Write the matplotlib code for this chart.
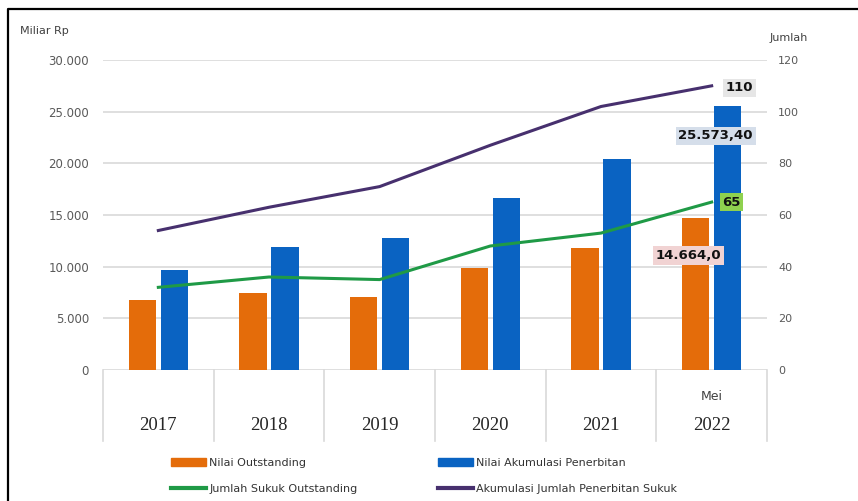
import matplotlib
matplotlib.use("Agg")
import matplotlib.pyplot as plt
from matplotlib.patches import Patch
from matplotlib.lines import Line2D
import matplotlib.transforms as mtransforms

years = ["2017", "2018", "2019", "2020", "2021", "2022"]
nilai_outstanding = [6800, 7450, 7100, 9900, 11850, 14664.0]
nilai_akumulasi = [9650, 11900, 12800, 16600, 20400, 25573.40]
jumlah_outstanding = [32, 36, 35, 48, 53, 65]
akumulasi_jumlah = [54, 63, 71, 87, 102, 110]
left_ticks = [0, 5000, 10000, 15000, 20000, 25000, 30000]
left_labels = ["0", "5.000", "10.000", "15.000", "20.000", "25.000", "30.000"]
right_ticks = [0, 20, 40, 60, 80, 100, 120]

C_OR = "#E46C0A"
C_BL = "#0A63C2"
C_GR = "#1F9A46"
C_PU = "#47306E"
C_TXT = "#595959"

W, H = 858, 501
fig = plt.figure(figsize=(W / 100, H / 100), dpi=100)
fig.patch.set_facecolor("white")
ax = fig.add_axes([103 / W, 1 - 370 / H, (767 - 103) / W, (370 - 60) / H])
ax2 = ax.twinx()

x = list(range(len(years)))
bw = 0.245
ax.bar([i - 0.145 for i in x], nilai_outstanding, width=bw, color=C_OR, zorder=3)
ax.bar([i + 0.145 for i in x], nilai_akumulasi, width=bw, color=C_BL, zorder=3)
ax2.plot(x, jumlah_outstanding, color=C_GR, lw=2.2, zorder=4)
ax2.plot(x, akumulasi_jumlah, color=C_PU, lw=2.2, zorder=4)

ax.set_xlim(-0.5, len(years) - 0.5)
ax.set_ylim(0, 30000)
ax2.set_ylim(0, 120)
ax.set_yticks(left_ticks)
ax.set_yticklabels(left_labels)
ax2.set_yticks(right_ticks)
ax2.set_yticklabels([str(t) for t in right_ticks])
ax.set_xticks([])
for a in (ax, ax2):
    for s in a.spines.values():
        s.set_visible(False)
ax.tick_params(axis="y", length=0, pad=10, labelsize=8.5, labelcolor=C_TXT)
ax2.tick_params(axis="y", length=0, pad=8, labelsize=8, labelcolor=C_TXT)
ax.grid(axis="y", color="#D9D9D9", lw=1.2, zorder=0)
ax.set_axisbelow(True)
ax.set_zorder(1)
ax2.set_zorder(2)
ax.patch.set_visible(False)

# category table below axis
trans = mtransforms.blended_transform_factory(ax.transData, ax.transAxes)
for b in [i - 0.5 for i in range(len(years) + 1)]:
    ax.plot([b, b], [0, -0.23], transform=trans, color="#D9D9D9", lw=1.2, clip_on=False)
for i, yr in enumerate(years):
    ax.text(i, -0.18, yr, transform=trans, ha="center", va="center",
            fontsize=13.5, family="Liberation Serif", color="#262626")
ax.text(5, -0.085, "Mei", transform=trans, ha="center", va="center",
        fontsize=9, color="#404040")

# data labels
ax2.annotate("110", xy=(5, akumulasi_jumlah[-1]), xytext=(28, -2), textcoords="offset pixels",
             ha="center", va="center", fontsize=9.5, fontweight="bold", color="#111111",
             bbox=dict(boxstyle="square,pad=0.2", fc="#E6E6E6", ec="none"), zorder=6)
ax.annotate("25.573,40", xy=(5, nilai_akumulasi[-1]), xytext=(4, -30), textcoords="offset pixels",
            ha="center", va="center", fontsize=9.5, fontweight="bold", color="#111111",
            bbox=dict(boxstyle="square,pad=0.2", fc="#D5DEEA", ec="none"), zorder=6)
ax2.annotate("65", xy=(5, jumlah_outstanding[-1]), xytext=(20, 0), textcoords="offset pixels",
             ha="center", va="center", fontsize=9.5, fontweight="bold", color="#111111",
             bbox=dict(boxstyle="square,pad=0.2", fc="#8FD14F", ec="none"), zorder=6)
ax.annotate("14.664,0", xy=(5, nilai_outstanding[-1]), xytext=(-23, -37), textcoords="offset pixels",
            ha="center", va="center", fontsize=9.5, fontweight="bold", color="#111111",
            bbox=dict(boxstyle="square,pad=0.2", fc="#F1D3D3", ec="none"), zorder=6)

# axis titles
fig.text(20 / W, 1 - 31 / H, "Miliar Rp", fontsize=8, color="#404040", ha="left", va="center")
fig.text(808 / W, 1 - 38 / H, "Jumlah", fontsize=8, color="#404040", ha="right", va="center")

# legends
common = dict(frameon=False, fontsize=8, handlelength=3.2, handletextpad=0.3,
              labelspacing=1.45, borderpad=0, labelcolor="#333333")
leg1 = fig.legend(handles=[Patch(color=C_OR, label="Nilai Outstanding"),
                           Line2D([], [], color=C_GR, lw=3, label="Jumlah Sukuk Outstanding")],
                  loc="upper left", bbox_to_anchor=(165 / W, 1 - 452 / H), **common)
leg2 = fig.legend(handles=[Patch(color=C_BL, label="Nilai Akumulasi Penerbitan"),
                           Line2D([], [], color=C_PU, lw=3, label="Akumulasi Jumlah Penerbitan Sukuk")],
                  loc="upper left", bbox_to_anchor=(432 / W, 1 - 452 / H), **common)

# frame
fig.add_artist(Line2D([8 / W, 8 / W, 1.0], [0.0, 1 - 9 / H, 1 - 9 / H],
                      transform=fig.transFigure, color="black", lw=1.6))

fig.savefig("out.png", dpi=100)
